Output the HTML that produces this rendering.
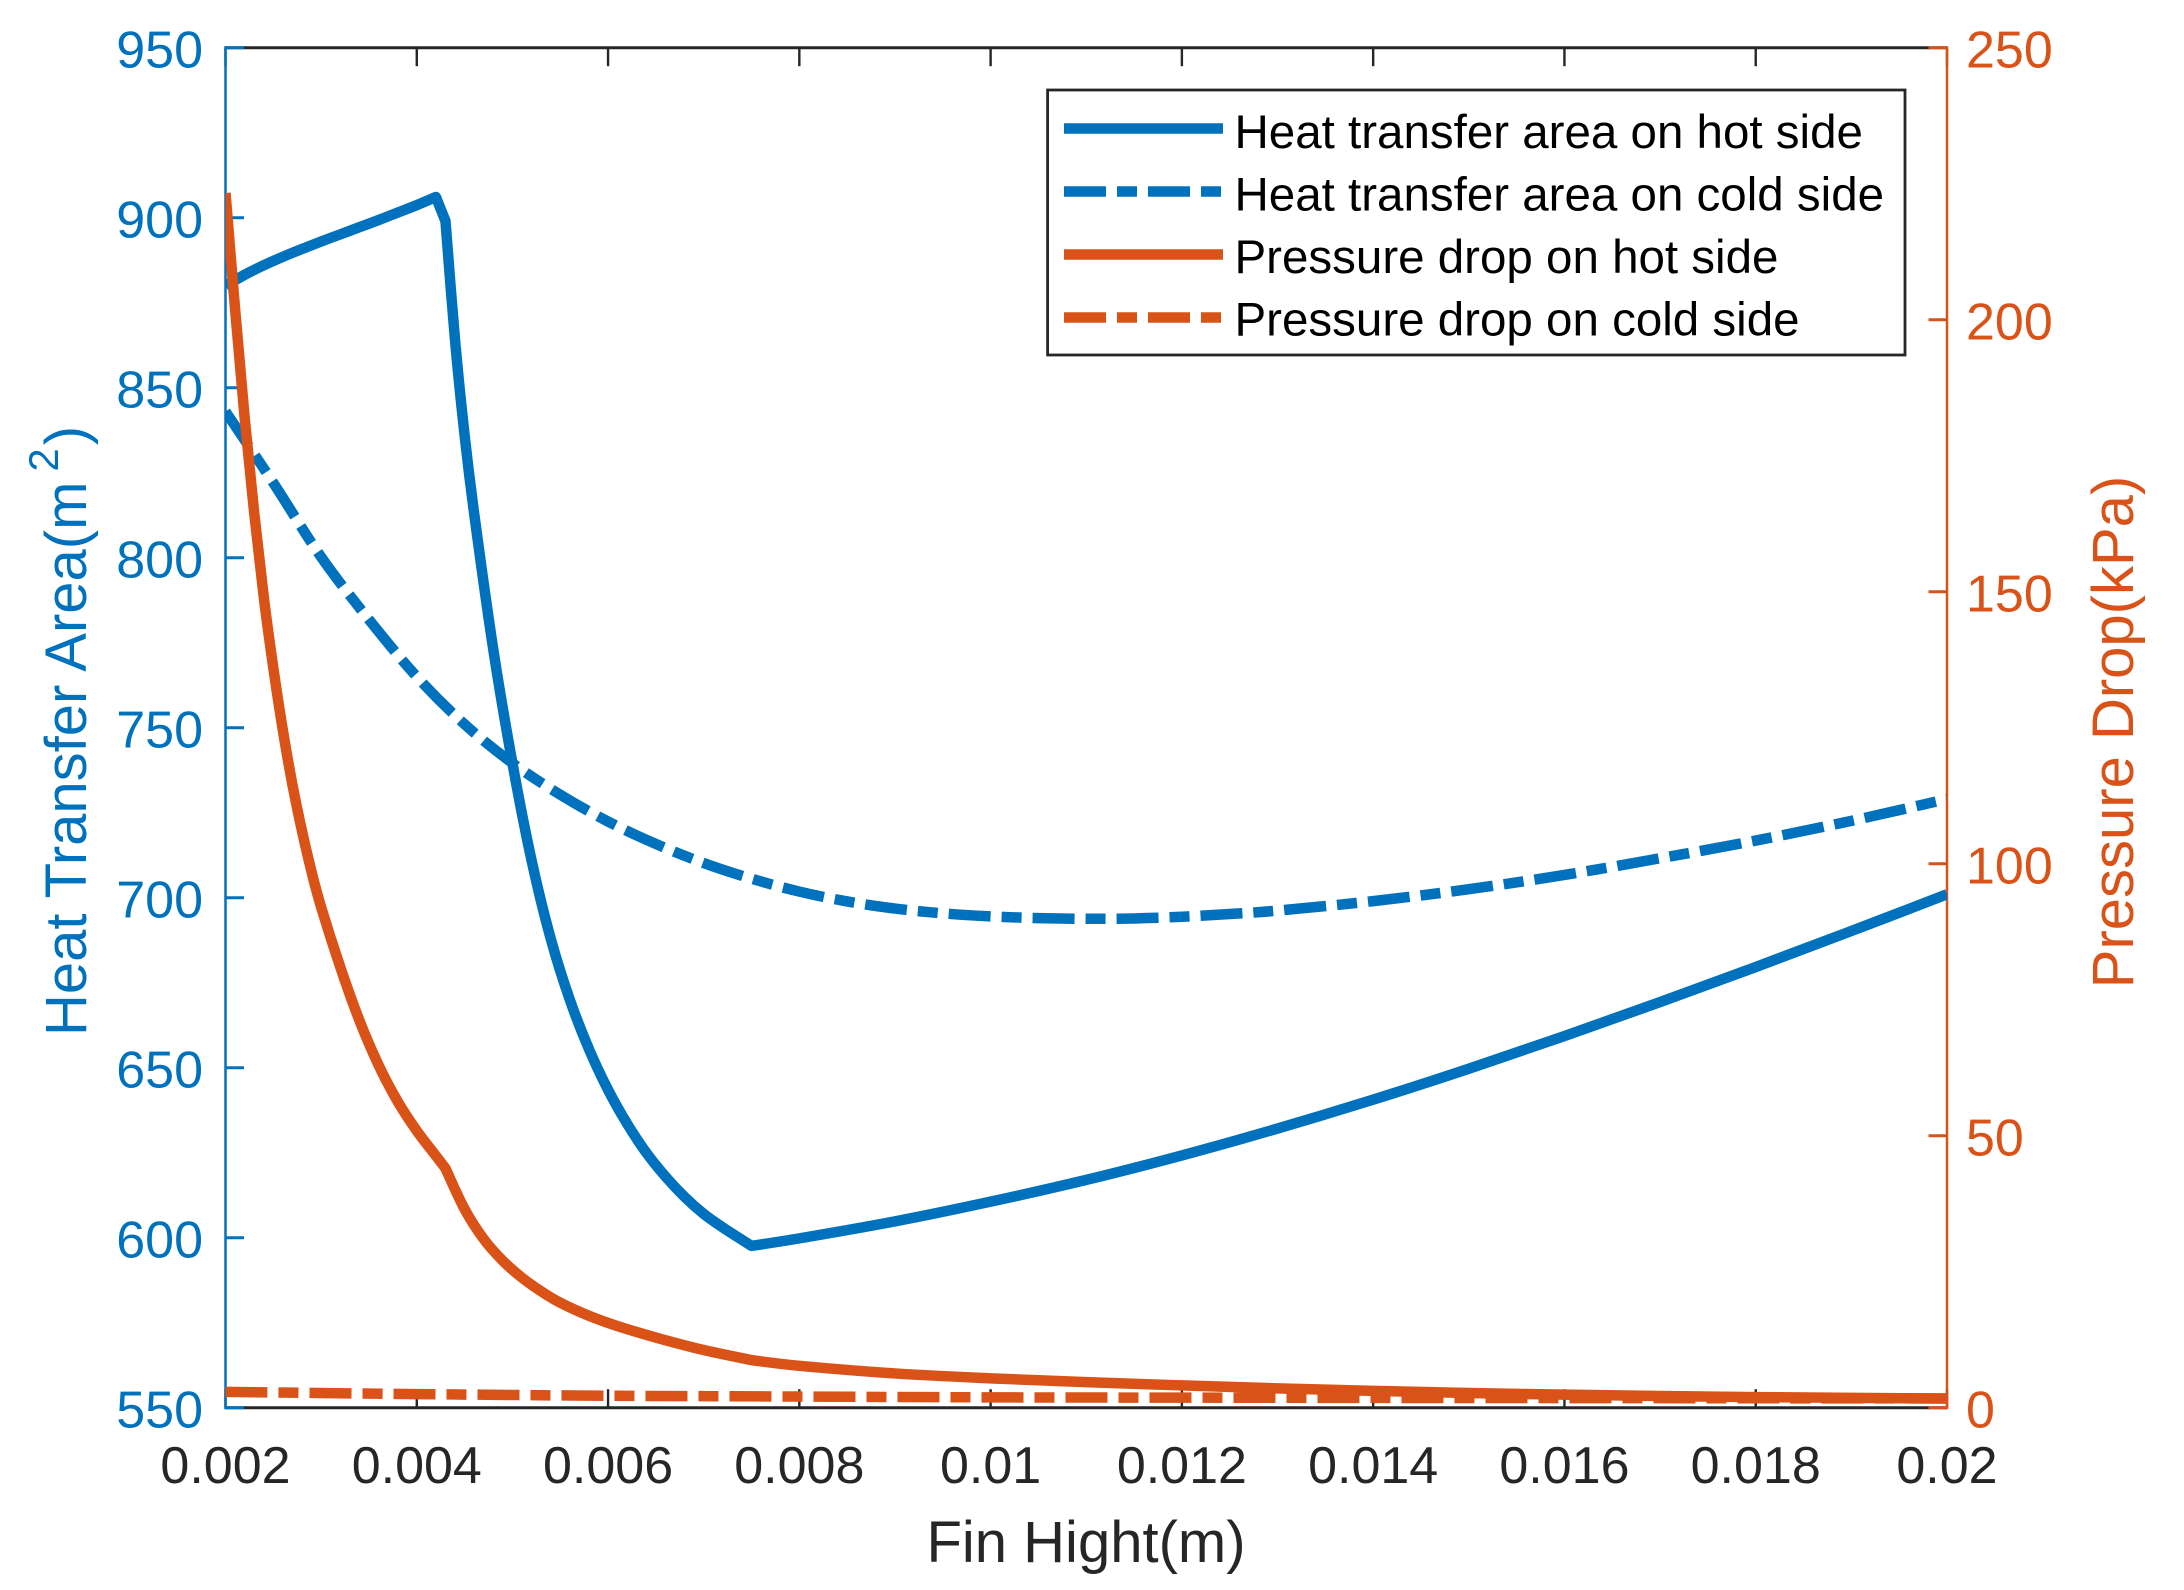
<!DOCTYPE html>
<html>
<head>
<meta charset="utf-8">
<title>Heat transfer area and pressure drop vs fin height</title>
<style>
html,body{margin:0;padding:0;background:#fff;width:2184px;height:1590px;overflow:hidden}
svg{display:block}
text{font-family:"Liberation Sans",Arial,sans-serif}
</style>
</head>
<body>
<svg id="chart" xmlns="http://www.w3.org/2000/svg" width="2184" height="1590" viewBox="0 0 2184 1590">
  <defs><clipPath id="plot-clip"><rect x="225.5" y="47.7" width="1721.5" height="1360"/></clipPath></defs>
  <rect x="0" y="0" width="2184" height="1590" fill="#fff"/>
  <g id="axes"></g>
  <g id="series" clip-path="url(#plot-clip)" fill="none" stroke-width="10.5" stroke-linejoin="round" stroke-linecap="butt"></g>
  <text x="1086" y="1562" font-size="58" fill="#262626" text-anchor="middle">Fin Hight(m)</text>
  <text transform="translate(86,1036) rotate(-90)" font-size="58" fill="#0072BD">Heat Transfer Area(m<tspan dx="10" dy="-28" font-size="42">2</tspan><tspan dx="3" dy="28">)</tspan></text>
  <text transform="translate(2133,732) rotate(-90)" font-size="58" fill="#D95319" text-anchor="middle">Pressure Drop(kPa)</text>
  <g>
    <rect x="1047.6" y="90" width="857.4" height="265" fill="#fff" stroke="#262626" stroke-width="2.8"/>
    <line x1="1064" x2="1223" y1="128.5" y2="128.5" stroke="#0072BD" stroke-width="10.5"/>
    <text x="1234.5" y="148" font-size="47.5" fill="#000">Heat transfer area on hot side</text>
    <line x1="1064" x2="1223" y1="191.5" y2="191.5" stroke="#0072BD" stroke-width="10.5" stroke-dasharray="42 11 20 11"/>
    <text x="1234.5" y="210.6" font-size="47.5" fill="#000">Heat transfer area on cold side</text>
    <line x1="1064" x2="1223" y1="254.5" y2="254.5" stroke="#D95319" stroke-width="10.5"/>
    <text x="1234.5" y="273" font-size="47.5" fill="#000">Pressure drop on hot side</text>
    <line x1="1064" x2="1223" y1="317.5" y2="317.5" stroke="#D95319" stroke-width="10.5" stroke-dasharray="42 11 20 11"/>
    <text x="1234.5" y="335.6" font-size="47.5" fill="#000">Pressure drop on cold side</text>
  </g>
</svg>
<script>
var xTickValues = [0.002,0.004,0.006,0.008,0.01,0.012,0.014,0.016,0.018,0.02];
var xTickLabels = ["0.002","0.004","0.006","0.008","0.01","0.012","0.014","0.016","0.018","0.02"];
var leftTickValues = [550,600,650,700,750,800,850,900,950];
var rightTickValues = [0,50,100,150,200,250];

var hotAreaX = [0.002,0.0022,0.0024,0.0026,0.0028,0.003,0.0032,0.0034,0.0036,0.0038,0.004,0.0042,0.0043,0.0044,0.0045,0.0046,0.0048,0.005,0.0052,0.0054,0.0056,0.0058,0.006,0.0062,0.0064,0.0066,0.0068,0.007,0.0072,0.0075,0.008,0.009,0.01,0.011,0.012,0.013,0.014,0.015,0.016,0.017,0.018,0.019,0.02];
var hotAreaY = [880,883.2,886,888.5,890.8,893,895.1,897.2,899.3,901.5,903.7,906.1,899,864,836,813,773,739.6,711,688,670,655.5,643.5,633.5,625,618,612,607,603,597.6,599.8,604.8,610.6,617,624.2,632.1,640.6,649.7,659.3,669.3,679.6,690.2,701];
var hotAreaKnees = [0.0042,0.0043,0.0075];

var coldAreaX = [0.002,0.0025,0.003,0.0035,0.004,0.0045,0.005,0.0055,0.006,0.0065,0.007,0.0075,0.008,0.0085,0.009,0.0095,0.01,0.0105,0.011,0.0115,0.012,0.0125,0.013,0.014,0.015,0.016,0.017,0.018,0.019,0.02];
var coldAreaY = [843,822,800.2,781.8,765,751,739.6,730.3,722.4,715.8,710.2,705.6,701.8,698.9,696.8,695.4,694.5,694,693.8,693.9,694.4,695.2,696.2,699,702.5,706.7,711.6,716.8,722.6,729];
var coldAreaKnees = [];

var hotDropX = [0.002,0.0021,0.0022,0.0023,0.0024,0.0025,0.0026,0.0027,0.0028,0.0029,0.003,0.0032,0.0034,0.0036,0.0038,0.004,0.0042,0.0043,0.0045,0.0047,0.0049,0.0051,0.0053,0.0055,0.0058,0.0061,0.0065,0.007,0.0075,0.008,0.009,0.01,0.011,0.012,0.013,0.014,0.015,0.016,0.017,0.018,0.019,0.02];
var hotDropY = [223.3,202,182,164.5,149,136,124.5,114.5,106,98.5,92,81,71.2,63,56.3,50.9,46.3,44,36.5,31,27,23.9,21.4,19.3,16.9,15,12.9,10.6,8.75,7.7,6.3,5.4,4.7,4.1,3.55,3.1,2.7,2.4,2.15,1.95,1.8,1.7];
var hotDropKnees = [0.0043,0.0075];

var coldDropX = [0.002,0.004,0.006,0.008,0.01,0.012,0.014,0.016,0.018,0.02];
var coldDropY = [2.9,2.5,2.2,2.05,1.9,1.85,1.8,1.77,1.73,1.7];
var coldDropKnees = [];

var SVGNS = "http://www.w3.org/2000/svg";
var BLUE = "#0072BD", ORANGE = "#D95319", DARK = "#262626";
var L = 225.5, R = 1947, T = 47.7, B = 1407.7, TICK = 18.5;

function xScale(v){ return L + (v - 0.002) / (0.02 - 0.002) * (R - L); }
function yLeft(v){ return B - (v - 550) / (950 - 550) * (B - T); }
function yRight(v){ return B - (v - 0) / (250 - 0) * (B - T); }

function mk(tag, attrs){
  var el = document.createElementNS(SVGNS, tag);
  for (var k in attrs) el.setAttribute(k, attrs[k]);
  return el;
}

function splinePath(xs, ys, yScale, knees){
  var d = "", i = 0, n = xs.length;
  var px = xs.map(xScale), py = ys.map(yScale);
  function isBreak(j){ return j === 0 || j === n - 1 || knees.indexOf(xs[j]) >= 0; }
  d = "M" + px[0].toFixed(2) + " " + py[0].toFixed(2);
  for (i = 0; i < n - 1; i++){
    var p0x = isBreak(i) ? px[i] : px[i-1], p0y = isBreak(i) ? py[i] : py[i-1];
    var p3x = isBreak(i+1) ? px[i+1] : px[i+2], p3y = isBreak(i+1) ? py[i+1] : py[i+2];
    var c1x = px[i] + (px[i+1] - p0x) / 6, c1y = py[i] + (py[i+1] - p0y) / 6;
    var c2x = px[i+1] - (p3x - px[i]) / 6, c2y = py[i+1] - (p3y - py[i]) / 6;
    d += "C" + c1x.toFixed(2) + " " + c1y.toFixed(2) + " " + c2x.toFixed(2) + " " + c2y.toFixed(2) + " " + px[i+1].toFixed(2) + " " + py[i+1].toFixed(2);
  }
  return d;
}

var axes = document.getElementById("axes");
var series = document.getElementById("series");

/* top and bottom axis lines */
var topLine = mk("line", {x1:L, x2:R, y1:T, y2:T, stroke:DARK, "stroke-width":3});


axes.appendChild(topLine);

var bottomLine = mk("line", {x1:L, x2:R, y1:B, y2:B, stroke:DARK, "stroke-width":3});


axes.appendChild(bottomLine);

xTickValues.forEach(function(v, i){
  var x = xScale(v);
  var t1 = mk("line", {x1:x, x2:x, y1:B, y2:B - TICK, stroke:DARK, "stroke-width":2.4});
  
  
  axes.appendChild(t1);
  var t2 = mk("line", {x1:x, x2:x, y1:T, y2:T + TICK, stroke:DARK, "stroke-width":2.4});
  
  
  axes.appendChild(t2);
  var lab = mk("text", {x:x, y:1483, "font-size":52, fill:DARK, "text-anchor":"middle"});
  
  
  lab.textContent = xTickLabels[i];
  axes.appendChild(lab);
});

var leftLine = mk("line", {x1:L, x2:L, y1:T - 1.5, y2:B + 1.5, stroke:BLUE, "stroke-width":2.5});


axes.appendChild(leftLine);

leftTickValues.forEach(function(v){
  var y = yLeft(v);
  var t = mk("line", {x1:L, x2:L + TICK, y1:y, y2:y, stroke:BLUE, "stroke-width":3});
  
  
  axes.appendChild(t);
  var lab = mk("text", {x:203, y:y + 20, "font-size":52, fill:BLUE, "text-anchor":"end"});
  
  
  lab.textContent = String(v);
  axes.appendChild(lab);
});

var rightLine = mk("line", {x1:R, x2:R, y1:T - 1.5, y2:B + 1.5, stroke:ORANGE, "stroke-width":2.5});


axes.appendChild(rightLine);

rightTickValues.forEach(function(v){
  var y = yRight(v);
  var t = mk("line", {x1:R, x2:R - TICK, y1:y, y2:y, stroke:ORANGE, "stroke-width":3});
  
  
  axes.appendChild(t);
  var lab = mk("text", {x:1966, y:y + 20, "font-size":52, fill:ORANGE, "text-anchor":"start"});
  
  
  lab.textContent = String(v);
  axes.appendChild(lab);
});

/* series */
var hotArea = mk("path", {d:splinePath(hotAreaX, hotAreaY, yLeft, hotAreaKnees), stroke:BLUE});


series.appendChild(hotArea);

var coldArea = mk("path", {d:splinePath(coldAreaX, coldAreaY, yLeft, coldAreaKnees), stroke:BLUE, "stroke-dasharray":"42 11 20 11"});


series.appendChild(coldArea);

var hotDrop = mk("path", {d:splinePath(hotDropX, hotDropY, yRight, hotDropKnees), stroke:ORANGE});


series.appendChild(hotDrop);

var coldDrop = mk("path", {d:splinePath(coldDropX, coldDropY, yRight, coldDropKnees), stroke:ORANGE, "stroke-dasharray":"42 11 20 11"});


series.appendChild(coldDrop);
</script>
</body>
</html>
